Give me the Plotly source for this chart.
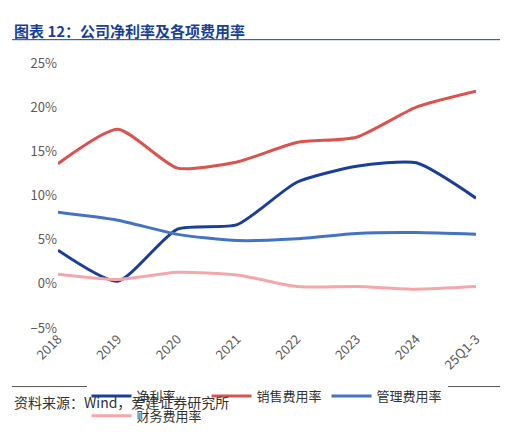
import plotly.graph_objects as go

years = ["2018","2019","2020","2021","2022","2023","2024","25Q1-3"]
net = [3.8, 0.3, 6.2, 6.7, 11.5, 13.3, 13.7, 9.7]
sales = [13.6, 17.5, 13.1, 13.8, 16.0, 16.6, 20.0, 21.8]
admin = [8.1, 7.2, 5.6, 4.9, 5.1, 5.7, 5.8, 5.6]
fin = [1.1, 0.5, 1.3, 1.0, -0.3, -0.3, -0.6, -0.3]
names = ["净利率", "销售费用率", "管理费用率", "财务费用率"]
colors = ["#1a3f9a", "#d9534f", "#4472c4", "#f4a7a9"]

fig = go.Figure()
for n, v, c in zip(names, [net, sales, admin, fin], colors):
    fig.add_trace(go.Scatter(x=years, y=v, name=n, mode="lines",
                             line=dict(color=c, width=3, shape="spline", smoothing=0.6)))
font = "Noto Sans CJK SC"
fig.update_layout(
    width=508, height=435, margin=dict(l=50, r=40, t=55, b=95),
    paper_bgcolor="white", plot_bgcolor="white",
    font=dict(family=font, color="#595959", size=13),
    showlegend=True,
    legend=dict(orientation="h", x=0.5, xanchor="center", y=-0.2, yanchor="top",
                font=dict(size=13, color="#333"), itemwidth=40),
    xaxis=dict(tickangle=-45, showgrid=False, showline=False, ticks=""),
    yaxis=dict(range=[-5, 25], dtick=5, ticksuffix="%", showgrid=False,
               zeroline=False, showline=False),
)
fig.add_annotation(text="<b>图表 12：公司净利率及各项费用率</b>", xref="paper", yref="paper",
                   x=-0.11, y=1.17, xanchor="left", yanchor="top", showarrow=False,
                   font=dict(size=15, color="#1a3f9a", family=font))
fig.add_shape(type="line", xref="paper", yref="paper", x0=-0.11, x1=1.09, y0=1.088, y1=1.088,
              line=dict(color="#1a3f9a", width=1))
fig.add_shape(type="line", xref="paper", yref="paper", x0=-0.11, x1=1.09, y0=-0.221, y1=-0.221,
              line=dict(color="#555", width=1))
fig.add_annotation(text="资料来源：Wind，爱建证券研究所", xref="paper", yref="paper",
                   x=-0.11, y=-0.235, xanchor="left", yanchor="top", showarrow=False,
                   font=dict(size=14, color="#333", family=font))
fig.write_html("out.html")
